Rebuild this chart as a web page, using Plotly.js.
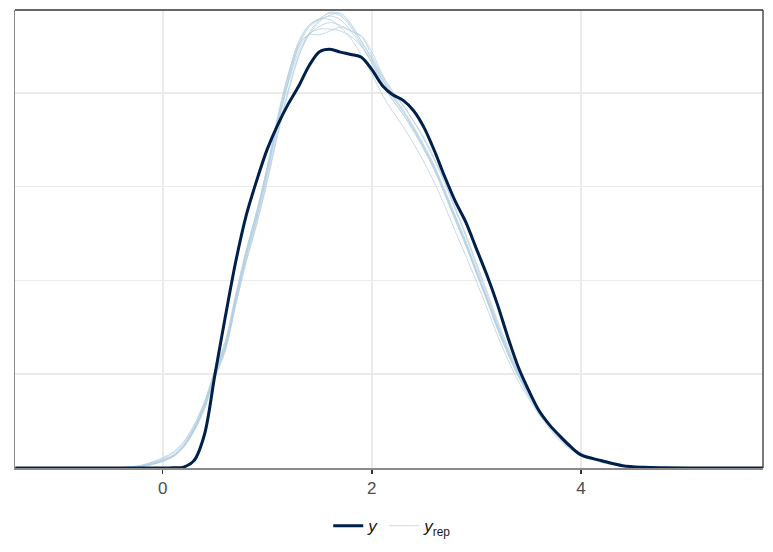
<!DOCTYPE html>
<html>
<head>
<meta charset="utf-8">
<script src="https://cdn.plot.ly/plotly-3.0.1.min.js"></script>
<style>html,body{margin:0;padding:0;background:#fff;}#chart{width:773px;height:552px;}</style>
</head>
<body>
<div id="chart"></div>
<script>
// shared evaluation grid (x values of the density curves)
var xGrid = [-1.41,-0.8,-0.4,-0.2,0,0.1,0.2,0.3,0.4,0.5,0.6,0.7,0.8,0.9,1.0,1.1,1.2,1.3,1.4,1.5,1.6,1.7,1.8,1.9,2.0,2.1,2.2,2.3,2.4,2.5,2.6,2.7,2.8,2.9,3.0,3.1,3.2,3.3,3.4,3.5,3.6,3.7,3.8,3.9,4.0,4.2,4.4,4.6,4.8,5.0,5.4,5.74];

// observed data density (y)
var yObs = [0,0,0,0,0,0.0003,0.001,0.008,0.036,0.100,0.162,0.221,0.270,0.307,0.340,0.366,0.388,0.407,0.429,0.444,0.4465,0.4435,0.441,0.438,0.425,0.408,0.398,0.392,0.381,0.363,0.338,0.310,0.284,0.262,0.234,0.206,0.175,0.140,0.108,0.083,0.061,0.046,0.034,0.023,0.014,0.0078,0.0025,0.0008,0.0003,0.0001,0,0];

// replicated data densities (y_rep)
var yRep1 = [0,0,0.0003,0.002,0.008,0.013,0.023,0.040,0.064,0.098,0.128,0.178,0.225,0.266,0.312,0.364,0.412,0.450,0.470,0.479,0.485,0.482,0.470,0.452,0.432,0.410,0.392,0.377,0.360,0.340,0.318,0.292,0.264,0.237,0.208,0.179,0.149,0.122,0.098,0.077,0.059,0.044,0.031,0.021,0.014,0.006,0.002,0.0006,0.0002,0.0001,0,0];
var yRep2 = [0,0,0.0004,0.003,0.010,0.016,0.027,0.045,0.070,0.104,0.134,0.184,0.232,0.274,0.322,0.375,0.420,0.452,0.462,0.462,0.466,0.470,0.466,0.460,0.440,0.418,0.400,0.386,0.370,0.352,0.330,0.305,0.277,0.249,0.219,0.189,0.158,0.130,0.104,0.082,0.063,0.047,0.033,0.023,0.016,0.007,0.0024,0.0008,0.0002,0.0001,0,0];
var yRep3 = [0,0,0.0002,0.0015,0.007,0.012,0.022,0.040,0.066,0.100,0.131,0.182,0.230,0.272,0.320,0.372,0.416,0.452,0.472,0.479,0.478,0.470,0.458,0.440,0.420,0.398,0.380,0.364,0.346,0.326,0.304,0.279,0.252,0.226,0.199,0.171,0.142,0.116,0.093,0.074,0.057,0.042,0.029,0.020,0.014,0.006,0.002,0.0006,0.0002,0.0001,0,0];
var yRep4 = [0,0,0.0003,0.002,0.008,0.013,0.024,0.042,0.066,0.099,0.127,0.176,0.222,0.262,0.308,0.358,0.403,0.440,0.462,0.476,0.483,0.485,0.474,0.455,0.436,0.414,0.396,0.380,0.362,0.342,0.320,0.294,0.267,0.240,0.210,0.181,0.151,0.124,0.100,0.079,0.061,0.045,0.032,0.022,0.015,0.0068,0.0023,0.0007,0.0002,0.0001,0,0];
var yRep5 = [0,0,0.0003,0.002,0.009,0.014,0.025,0.043,0.068,0.102,0.132,0.181,0.228,0.269,0.316,0.368,0.410,0.444,0.462,0.471,0.475,0.472,0.466,0.461,0.444,0.420,0.402,0.387,0.370,0.350,0.328,0.303,0.275,0.247,0.216,0.186,0.155,0.127,0.102,0.080,0.062,0.046,0.033,0.022,0.015,0.0068,0.0023,0.0007,0.0002,0.0001,0,0];
var yRep6 = [0,0,0.0004,0.003,0.011,0.017,0.028,0.046,0.071,0.105,0.136,0.186,0.233,0.274,0.320,0.372,0.418,0.455,0.472,0.478,0.482,0.478,0.466,0.450,0.432,0.411,0.393,0.377,0.359,0.339,0.317,0.291,0.264,0.237,0.208,0.179,0.149,0.122,0.098,0.077,0.059,0.044,0.031,0.021,0.014,0.0062,0.0021,0.0007,0.0002,0.0001,0,0];
var yRep7 = [0,0,0.0002,0.0015,0.007,0.012,0.022,0.039,0.063,0.096,0.125,0.174,0.220,0.260,0.305,0.355,0.400,0.438,0.464,0.478,0.486,0.484,0.472,0.455,0.437,0.416,0.398,0.382,0.364,0.344,0.322,0.296,0.269,0.242,0.212,0.183,0.153,0.126,0.101,0.080,0.062,0.046,0.033,0.023,0.016,0.0072,0.0025,0.0008,0.0003,0.0001,0,0];
var yRep8 = [0,0,0.0003,0.002,0.008,0.013,0.024,0.042,0.067,0.101,0.130,0.180,0.227,0.268,0.316,0.368,0.412,0.448,0.463,0.468,0.468,0.466,0.460,0.450,0.434,0.414,0.396,0.380,0.362,0.342,0.320,0.294,0.267,0.240,0.210,0.181,0.151,0.124,0.100,0.079,0.061,0.045,0.032,0.022,0.015,0.0068,0.0023,0.0007,0.0002,0.0001,0,0];

var yRepList = [yRep1,yRep2,yRep3,yRep4,yRep5,yRep6,yRep7,yRep8];
var xTicks = [0,2,4];
var xTickText = ['0','2','4'];

var darkColor = '#011f4b';
var lightColor = 'rgba(179,205,224,0.75)';

var traces = [];
yRepList.forEach(function(vals, i){
  traces.push({
    x: xGrid, y: vals, type: 'scatter', mode: 'lines',
    line: {color: lightColor, width: 1, shape: 'spline', smoothing: 0.9},
    name: '<i>y</i><sub>rep</sub>', legendgroup: 'rep',
    showlegend: i === 0, legendrank: 2, hoverinfo: 'skip'
  });
});
traces.push({
  x: xGrid, y: yObs, type: 'scatter', mode: 'lines',
  line: {color: darkColor, width: 3, shape: 'spline', smoothing: 0.9},
  name: '<i>y</i>', legendrank: 1, hoverinfo: 'skip'
});

var layout = {
  width: 773, height: 552,
  margin: {l: 15, r: 10, t: 10, b: 84, autoexpand: false},
  paper_bgcolor: '#ffffff', plot_bgcolor: '#ffffff',
  font: {family: 'Liberation Sans, Arial, sans-serif', size: 17, color: '#4d4d4d'},
  showlegend: true,
  legend: {
    orientation: 'h', x: 0.505, xanchor: 'center', y: -0.127, yanchor: 'middle',
    font: {size: 17, color: '#1a1a1a'}, bgcolor: 'rgba(0,0,0,0)',
    itemwidth: 30, tracegroupgap: 0
  },
  xaxis: {
    range: [-1.413, 5.742], tickvals: xTicks, ticktext: xTickText,
    ticks: 'outside', ticklen: 4, tickwidth: 1.5, tickcolor: '#333333',
    showgrid: true, gridcolor: '#ebebeb', gridwidth: 1.6,
    zeroline: false, showline: true, linecolor: '#8a8a8a', linewidth: 1.5,
    tickfont: {size: 17, color: '#4d4d4d'}, fixedrange: true, automargin: false
  },
  yaxis: {
    range: [0, 0.4884], dtick: 0.1, tick0: 0,
    showticklabels: false, ticks: '',
    showgrid: true, gridcolor: '#ebebeb', gridwidth: 1.6,
    zeroline: false, showline: true, linecolor: '#8a8a8a', linewidth: 1.5,
    fixedrange: true, automargin: false
  },
  shapes: [
    {type: 'line', xref: 'paper', yref: 'paper', x0: 0, x1: 1, y0: 1, y1: 1, line: {color: '#333333', width: 1.3}},
    {type: 'line', xref: 'paper', yref: 'paper', x0: 1, x1: 1, y0: 0, y1: 1, line: {color: '#333333', width: 1.3}}
  ]
};

Plotly.newPlot('chart', traces, layout, {displayModeBar: false, staticPlot: true});
</script>
</body>
</html>
